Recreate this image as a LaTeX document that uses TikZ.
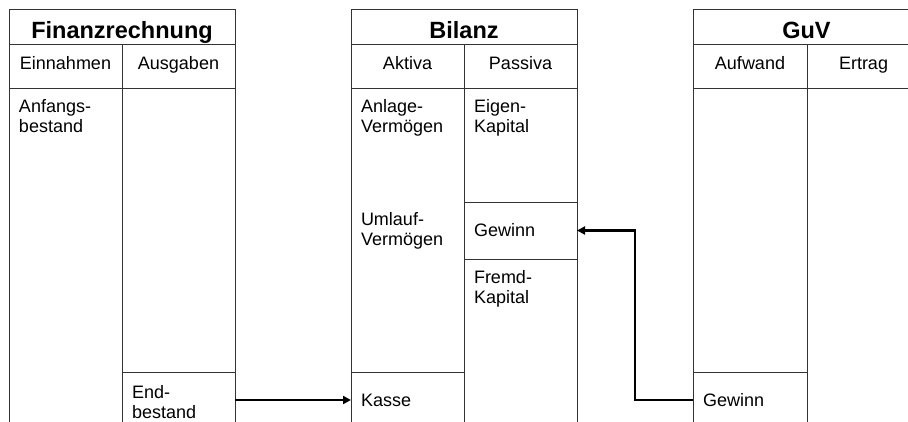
\documentclass[tikz,border=0pt]{standalone}
\usepackage{fontspec}
\setmainfont{Liberation Sans}
\usetikzlibrary{arrows.meta}
\begin{document}
\begin{tikzpicture}[x=1pt,y=-1pt,
  cell/.style={draw=black!80, line width=0.8pt, rectangle, inner sep=0pt, outer sep=0pt, anchor=north west},
  body/.style={font=\fontsize{18}{20.7}\selectfont, inner sep=0pt, outer sep=0pt, align=left, anchor=north west},
  mid/.style={font=\fontsize{18}{20.7}\selectfont, inner sep=0pt, outer sep=0pt, anchor=west},
  head/.style={font=\fontsize{18}{20.7}\selectfont, inner sep=0pt, anchor=base},
  ttl/.style={font=\bfseries\fontsize{23.5}{27}\selectfont, inner sep=0pt, anchor=base},
  flow/.style={draw=black, line width=2.7pt, -{Triangle[length=8pt,width=8pt]}}]
\useasboundingbox (0,0) rectangle (908,421);
\clip (0,0) rectangle (908,421);

% ---------- Finanzrechnung ----------
\node[cell, minimum width=226pt, minimum height=35pt] (ftitle) at (9,9) {};
\node[cell, minimum width=113pt, minimum height=44pt] (fein) at (9,44) {};
\node[cell, minimum width=113pt, minimum height=44pt] (faus) at (122,44) {};
\node[cell, minimum width=113pt, minimum height=340pt] (fanf) at (9,88) {};
\node[cell, minimum width=113pt, minimum height=284pt] (fausb) at (122,88) {};
\node[cell, minimum width=113pt, minimum height=56pt] (fend) at (122,372) {};

\node[ttl] (tftitle) at ([yshift=-29pt]ftitle.north) {Finanzrechnung};
\node[head] (tfein) at ([yshift=-25pt]fein.north) {Einnahmen};
\node[head] (tfaus) at ([yshift=-25pt]faus.north) {Ausgaben};
\node[body] (tfanf) at ([xshift=10pt,yshift=-11pt]fanf.north west) {Anfangs-\\bestand};
\node[body] (tfend) at ([xshift=10pt,yshift=-13pt]fend.north west) {End-\\bestand};

% ---------- Bilanz ----------
\node[cell, minimum width=226pt, minimum height=35pt] (btitle) at (351,9) {};
\node[cell, minimum width=113pt, minimum height=44pt] (bakt) at (351,44) {};
\node[cell, minimum width=113pt, minimum height=44pt] (bpas) at (464,44) {};
\node[cell, minimum width=113pt, minimum height=284pt] (baktb) at (351,88) {};
\node[cell, minimum width=113pt, minimum height=56pt] (bkasse) at (351,372) {};
\node[cell, minimum width=113pt, minimum height=114pt] (beigen) at (464,88) {};
\node[cell, minimum width=113pt, minimum height=57pt] (bgewinn) at (464,202) {};
\node[cell, minimum width=113pt, minimum height=169pt] (bfremd) at (464,259) {};

\node[ttl] (tbtitle) at ([yshift=-29pt]btitle.north) {Bilanz};
\node[head] (tbakt) at ([yshift=-25pt]bakt.north) {Aktiva};
\node[head] (tbpas) at ([yshift=-25pt]bpas.north) {Passiva};
\node[body] (tanlage) at ([xshift=10pt,yshift=-11pt]baktb.north west) {Anlage-\\Vermögen};
\node[body] (tumlauf) at ([xshift=10pt,yshift=-124pt]baktb.north west) {Umlauf-\\Vermögen};
\node[mid] (tkasse) at ([xshift=10pt]bkasse.west) {Kasse};
\node[body] (teigen) at ([xshift=10pt,yshift=-11pt]beigen.north west) {Eigen-\\Kapital};
\node[mid] (tbgew) at ([xshift=10pt]bgewinn.west) {Gewinn};
\node[body] (tfremd) at ([xshift=10pt,yshift=-11pt]bfremd.north west) {Fremd-\\Kapital};

% ---------- GuV ----------
\node[cell, minimum width=227pt, minimum height=35pt] (gtitle) at (693,9) {};
\node[cell, minimum width=114pt, minimum height=44pt] (gauf) at (693,44) {};
\node[cell, minimum width=113pt, minimum height=44pt] (gert) at (807,44) {};
\node[cell, minimum width=114pt, minimum height=284pt] (gaufb) at (693,88) {};
\node[cell, minimum width=114pt, minimum height=56pt] (ggewinn) at (693,372) {};
\node[cell, minimum width=113pt, minimum height=340pt] (gertb) at (807,88) {};

\node[ttl] (tgtitle) at ([yshift=-29pt]gtitle.north) {GuV};
\node[head] (tgauf) at ([yshift=-25pt]gauf.north) {Aufwand};
\node[head] (tgert) at ([yshift=-25pt]gert.north) {Ertrag};
\node[mid] (tggew) at ([xshift=10pt]ggewinn.west) {Gewinn};

% ---------- connectors ----------
\draw[flow] (fend.east) -- (bkasse.west);
\coordinate (elbow) at (635,400);
\draw[flow] (ggewinn.west) -- (elbow) |- (bgewinn.east);
\end{tikzpicture}
\end{document}
